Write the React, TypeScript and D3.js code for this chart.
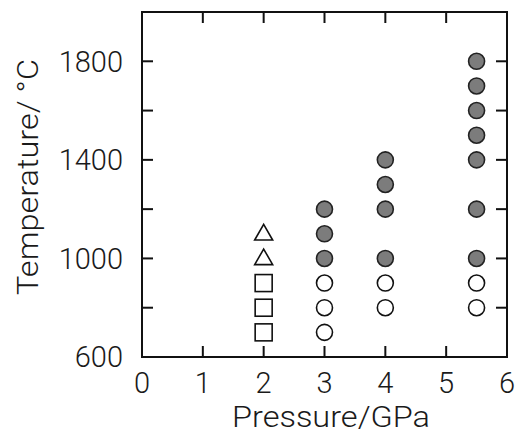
import React, { useRef, useEffect } from 'react';
import * as d3 from 'd3';

// experiment points: pressure (GPa) / temperature (°C)
const triP = [2, 2];
const triT = [1100, 1000];
const sqP = [2, 2, 2];
const sqT = [900, 800, 700];
const openP = [3, 3, 3, 4, 4, 5.5, 5.5];
const openT = [900, 800, 700, 900, 800, 900, 800];
const fillP = [3, 3, 3, 4, 4, 4, 4, 5.5, 5.5, 5.5, 5.5, 5.5, 5.5, 5.5];
const fillT = [1200, 1100, 1000, 1400, 1300, 1200, 1000, 1800, 1700, 1600, 1500, 1400, 1200, 1000];
const xTicks = [0, 1, 2, 3, 4, 5, 6];
const yTicks = [600, 800, 1000, 1200, 1400, 1600, 1800];
const yLabels = [600, 1000, 1400, 1800];

const App = () => {
  const ref = useRef(null);

  useEffect(() => {
    const width = 523;
    const height = 440;
    const left = 142, right = 507, top = 12, bottom = 357;
    const font = "Roboto, 'Liberation Sans', Arial, sans-serif";

    d3.select(ref.current).select('svg').remove();
    const svg = d3.select(ref.current)
      .append('svg')
      .attr('width', width)
      .attr('height', height)
      .style('position', 'absolute')
      .style('left', 0)
      .style('top', 0)
      .style('background', '#fff');

    const x = d3.scaleLinear().domain([0, 6]).range([left, right]);
    const y = d3.scaleLinear().domain([600, 2000]).range([bottom, top]);

    // frame
    svg.append('rect')
      .attr('x', left).attr('y', top)
      .attr('width', right - left).attr('height', bottom - top)
      .attr('fill', 'none').attr('stroke', '#111').attr('stroke-width', 2);

    const tl = 11;
    // x ticks, inward top and bottom
    const inner = xTicks.filter(d => d > 0 && d < 6);
    svg.selectAll('.xtb').data(inner).enter().append('line')
      .attr('x1', d => x(d)).attr('x2', d => x(d))
      .attr('y1', bottom).attr('y2', bottom - tl)
      .attr('stroke', '#111').attr('stroke-width', 2);
    svg.selectAll('.xtt').data(inner).enter().append('line')
      .attr('x1', d => x(d)).attr('x2', d => x(d))
      .attr('y1', top).attr('y2', top + tl)
      .attr('stroke', '#111').attr('stroke-width', 2);

    const yInner = yTicks.filter(d => d > 600);
    svg.selectAll('.ytl').data(yInner).enter().append('line')
      .attr('x1', left).attr('x2', left + tl)
      .attr('y1', d => y(d)).attr('y2', d => y(d))
      .attr('stroke', '#111').attr('stroke-width', 2);
    svg.selectAll('.ytr').data(yInner).enter().append('line')
      .attr('x1', right).attr('x2', right - tl)
      .attr('y1', d => y(d)).attr('y2', d => y(d))
      .attr('stroke', '#111').attr('stroke-width', 2);

    // tick labels
    svg.selectAll('.xl').data(xTicks).enter().append('text')
      .attr('x', d => x(d)).attr('y', 393)
      .attr('text-anchor', 'middle')
      .attr('font-family', font).attr('font-weight', 300)
      .attr('font-size', 29).attr('fill', '#1a1a1a')
      .text(d => d);
    svg.selectAll('.yl').data(yLabels).enter().append('text')
      .attr('x', 123).attr('y', d => y(d)).attr('dy', '0.36em')
      .attr('text-anchor', 'end')
      .attr('font-family', font).attr('font-weight', 300)
      .attr('font-size', 29).attr('fill', '#1a1a1a')
      .text(d => d);

    // axis titles
    svg.append('text')
      .attr('x', 331).attr('y', 427)
      .attr('text-anchor', 'middle')
      .attr('font-family', font).attr('font-weight', 300)
      .attr('font-size', 29).attr('fill', '#1a1a1a')
      .attr('textLength', 198).attr('lengthAdjust', 'spacingAndGlyphs')
      .text('Pressure/GPa');
    svg.append('text')
      .attr('transform', `translate(38, 177) rotate(-90)`)
      .attr('text-anchor', 'middle')
      .attr('font-family', font).attr('font-weight', 300)
      .attr('font-size', 29).attr('fill', '#1a1a1a')
      .attr('textLength', 236).attr('lengthAdjust', 'spacingAndGlyphs')
      .text('Temperature/ °C');

    // markers
    const r = 8;
    svg.selectAll('.open').data(openP.map((p, i) => [p, openT[i]])).enter().append('circle')
      .attr('cx', d => x(d[0])).attr('cy', d => y(d[1])).attr('r', r)
      .attr('fill', '#fff').attr('stroke', '#111').attr('stroke-width', 1.6);
    svg.selectAll('.fill').data(fillP.map((p, i) => [p, fillT[i]])).enter().append('circle')
      .attr('cx', d => x(d[0])).attr('cy', d => y(d[1])).attr('r', r)
      .attr('fill', '#7c7c7c').attr('stroke', '#222').attr('stroke-width', 1.6);
    const s = 17;
    svg.selectAll('.sq').data(sqP.map((p, i) => [p, sqT[i]])).enter().append('rect')
      .attr('x', d => x(d[0]) - s / 2).attr('y', d => y(d[1]) - s / 2)
      .attr('width', s).attr('height', s)
      .attr('fill', '#fff').attr('stroke', '#111').attr('stroke-width', 1.6);
    const tri = d3.symbol().type(d3.symbolTriangle).size(140);
    svg.selectAll('.tri').data(triP.map((p, i) => [p, triT[i]])).enter().append('path')
      .attr('d', tri)
      .attr('transform', d => `translate(${x(d[0])}, ${y(d[1]) + 1})`)
      .attr('fill', '#fff').attr('stroke', '#111').attr('stroke-width', 1.6);
  }, []);

  return <div ref={ref}></div>;
};

export default App;
